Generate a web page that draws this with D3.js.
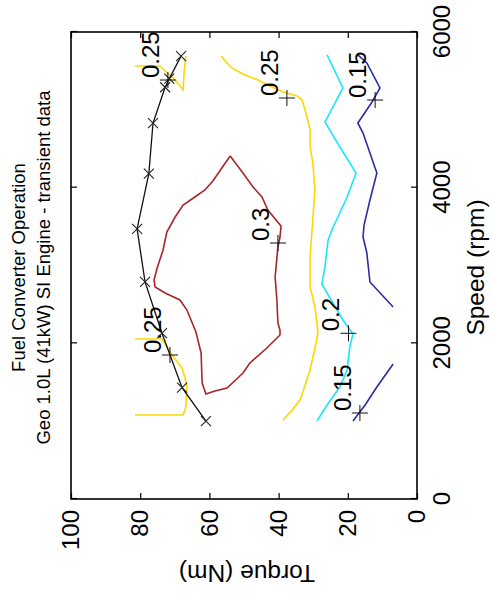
<!DOCTYPE html>
<html>
<head>
<meta charset="utf-8">
<script src="https://cdn.jsdelivr.net/npm/d3@7"></script>
<style>
  body { margin: 0; background: #fff; }
  svg { display: block; }
</style>
</head>
<body>
<div id="vizContainer"></div>
<script>
let wW = 492;
let wH = 595;

// ---- data (speed rpm, torque Nm) ----
let speedTicks = [0, 2000, 4000, 6000];
let torqueTicks = [0, 20, 40, 60, 80, 100];
let titleLines = ["Fuel Converter Operation", "Geo 1.0L (41kW) SI Engine - transient data"];

// max torque curve
let maxSpeed  = [1000, 1430, 2130, 2790, 3470, 4180, 4830, 5290, 5400, 5690];
let maxTorque = [61.0, 67.9, 73.7, 78.6, 80.9, 77.5, 76.3, 72.8, 71.6, 68.2];

// efficiency contours
let eff015a = [[5705,17.1],[5602,14.5],[5281,10.7],[5101,13.0],[4831,17.1],[4702,15.6],[4188,11.6],
               [3842,13.6],[3520,15.3],[3366,15.6],[3161,14.5],[2788,13.6],[2467,6.9]];
let eff015b = [[1734,6.9],[1439,11.6],[1208,15.0],[1002,18.5]];
let eff020  = [[5705,26.0],[5281,21.4],[4844,26.6],[4522,22.3],[4188,17.6],[3880,20.2],[3456,24.6],
               [3328,25.7],[2981,26.6],[2762,27.5],[2518,24.3],[2300,21.4],[2120,18.5],[1953,19.4],
               [1657,20.2],[1439,22.3],[1208,26.0],[1002,28.9]];
let eff025a = [[5692,56.6],[5602,54.9],[5538,53.5],[5461,50.3],[5383,46.0],[5293,41.9],[5229,38.7],
               [5178,34.7],[5126,33.2],[4908,31.8],[4741,30.9],[4522,30.9],[4317,30.1],[3970,29.5],
               [3109,30.9],[2724,30.9],[2467,29.5],[2133,28.6],[2004,29.2],[1657,30.9],[1272,33.8],
               [1143,36.1],[1015,38.7]];
let eff025b = [[5563,81.5],[5563,74.3],[5383,69.9],[5255,67.6],[5486,67.3],[5692,66.8]];
let eff025c = [[2056,81.5],[2056,73.7],[1850,70.8],[1683,67.9],[1465,66.5],[1182,66.8],[1079,67.6],[1079,81.5]];
let eff030  = [[4407,54.0],[4188,50.3],[4009,47.4],[3880,44.8],[3713,43.1],[3508,39.3],[3366,39.6],
               [3238,40.2],[2852,41.0],[2557,40.5],[2261,40.2],[2171,39.6],[2107,39.6],[1940,43.4],
               [1747,48.3],[1619,50.3],[1426,54.9],[1388,58.4],[1349,61.0],[1490,62.1],[1876,62.4],
               [2146,63.9],[2428,66.5],[2557,68.5],[2647,72.8],[2724,75.7],[2814,76.0],[2968,75.1],
               [3199,73.4],[3430,72.3],[3623,69.9],[3777,67.6],[3880,64.2],[3970,61.3],[4086,59.0],
               [4407,54.0]];

let contourLines = [
  {level: 0.15, pts: eff015a}, {level: 0.15, pts: eff015b},
  {level: 0.2,  pts: eff020},
  {level: 0.25, pts: eff025a}, {level: 0.25, pts: eff025b}, {level: 0.25, pts: eff025c},
  {level: 0.3,  pts: eff030}
];

// contour labels: level, speed, torque
let labelLevel  = ["0.25", "0.25", "0.25", "0.3", "0.2", "0.15", "0.15"];
let labelSpeed  = [5383, 1850, 5152, 3289, 2129, 1105, 5126];
let labelTorque = [72.0, 71.4, 37.6, 40.2, 19.8, 16.5, 12.1];

let levelColor = {0.15: "#2b2ba3", 0.2: "#19e6ff", 0.25: "#ffd700", 0.3: "#a8262a"};
let font = "'Liberation Sans', Arial, Helvetica, sans-serif";

let viz = d3.select("#vizContainer").append("svg")
    .attr("width", wW)
    .attr("height", wH)
    .style("background-color", "white");

// the figure is laid out landscape (595 wide, 492 high) and turned a quarter left
let fig = viz.append("g")
    .attr("transform", "translate(0," + wH + ") rotate(-90)");

let axL = 96, axR = 563, axT = 71, axB = 417;

let xScale = d3.scaleLinear().domain([0, 6000]).range([axL, axR]);
let yScale = d3.scaleLinear().domain([0, 100]).range([axB, axT]);
let plain = d3.format("d");

// axes, ticks pointing inwards
fig.append("g")
    .attr("transform", "translate(0," + axB + ")")
    .call(d3.axisBottom(xScale).tickValues(speedTicks).tickFormat(plain)
      .tickSizeInner(-6).tickSizeOuter(0).tickPadding(16));
fig.append("g")
    .attr("transform", "translate(" + axL + ",0)")
    .call(d3.axisLeft(yScale).tickValues(torqueTicks).tickFormat(plain)
      .tickSizeInner(-6).tickSizeOuter(0).tickPadding(11));
fig.append("g")
    .attr("transform", "translate(0," + axT + ")")
    .call(d3.axisTop(xScale).tickValues(speedTicks).tickSizeInner(-6).tickSizeOuter(0).tickFormat(""));
fig.append("g")
    .attr("transform", "translate(" + axR + ",0)")
    .call(d3.axisRight(yScale).tickValues(torqueTicks).tickSizeInner(-6).tickSizeOuter(0).tickFormat(""));

fig.selectAll(".domain").remove();
fig.selectAll(".tick line").attr("stroke", "#000").attr("stroke-width", 1.2);
fig.selectAll(".tick text")
    .attr("font-family", font)
    .attr("font-size", 24)
    .attr("fill", "#000");

fig.append("rect")
    .attr("x", axL)
    .attr("y", axT)
    .attr("width", axR - axL)
    .attr("height", axB - axT)
    .attr("fill", "none")
    .attr("stroke", "#000")
    .attr("stroke-width", 1.6);

// contours
let line = d3.line().x(d => xScale(d[0])).y(d => yScale(d[1]));

fig.append("g").selectAll("path")
  .data(contourLines)
  .enter()
  .append("path")
    .attr("d", d => line(d.pts))
    .attr("fill", "none")
    .attr("stroke", d => levelColor[d.level])
    .attr("stroke-width", 1.6);

// max torque line with x markers
let maxData = maxSpeed.map((s, i) => [s, maxTorque[i]]);
fig.append("path")
    .attr("d", line(maxData))
    .attr("fill", "none")
    .attr("stroke", "#111")
    .attr("stroke-width", 1.3);
fig.append("g").selectAll("path")
  .data(maxData)
  .enter()
  .append("path")
    .attr("transform", d => "translate(" + xScale(d[0]) + "," + yScale(d[1]) + ")")
    .attr("d", "M-5,-5L5,5M-5,5L5,-5")
    .attr("stroke", "#222")
    .attr("stroke-width", 1.1);

// contour labels
let labels = fig.append("g").selectAll("g")
  .data(labelLevel)
  .enter()
  .append("g")
    .attr("transform", (d, i) => "translate(" + xScale(labelSpeed[i]) + "," + yScale(labelTorque[i]) + ")");
labels.append("path")
    .attr("d", "M-8,0H8M0,-8V8")
    .attr("stroke", "#111")
    .attr("stroke-width", 1);
labels.append("text")
    .attr("x", 2)
    .attr("y", -9)
    .attr("font-family", font)
    .attr("font-size", 24)
    .text(d => d);

// title and axis labels
fig.selectAll(".title")
  .data(titleLines)
  .enter()
  .append("text")
    .attr("class", "title")
    .attr("x", (axL + axR) / 2 - 2)
    .attr("y", (d, i) => 25 + i * 25)
    .attr("text-anchor", "middle")
    .attr("font-family", font)
    .attr("font-size", 18.5)
    .text(d => d);

fig.append("text")
    .attr("x", (axL + axR) / 2 - 2)
    .attr("y", 484)
    .attr("text-anchor", "middle")
    .attr("font-family", font)
    .attr("font-size", 24.5)
    .text("Speed (rpm)");

fig.append("text")
    .attr("transform", "translate(30," + ((axT + axB) / 2 + 3) + ") rotate(-90)")
    .attr("text-anchor", "middle")
    .attr("font-family", font)
    .attr("font-size", 24.5)
    .text("Torque (Nm)");
</script>
</body>
</html>
